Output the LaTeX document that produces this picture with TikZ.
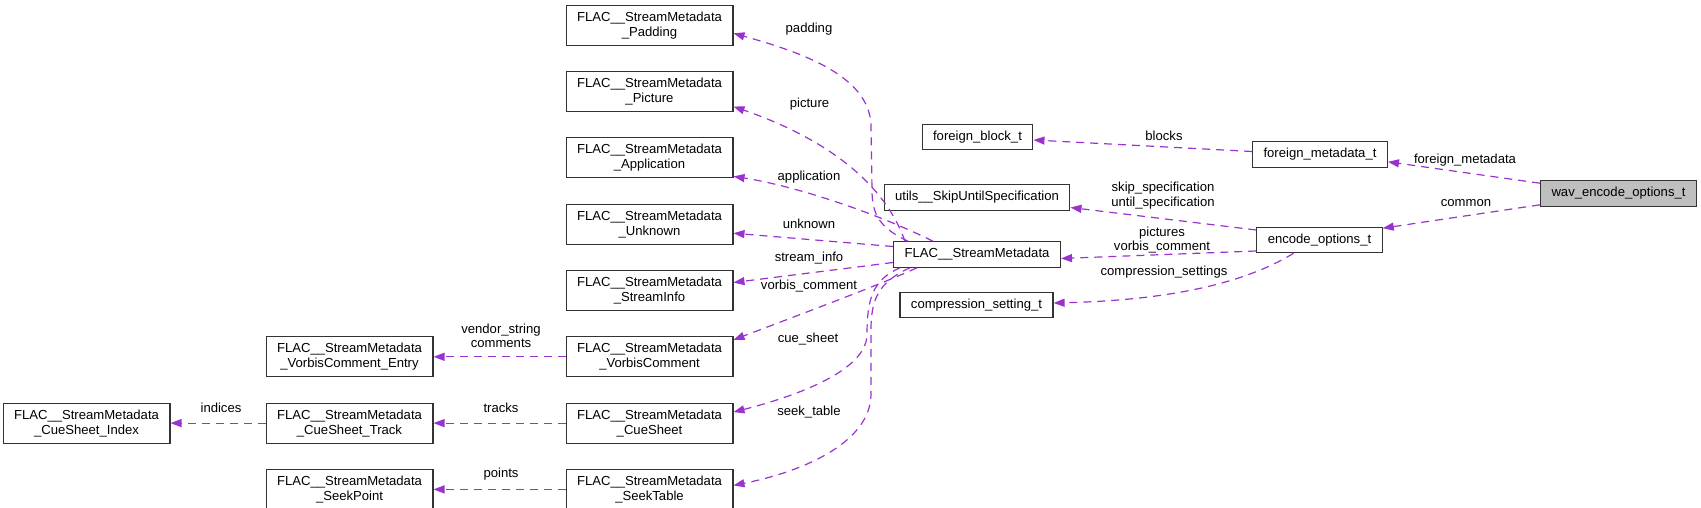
\documentclass[tikz,border=0pt]{standalone}
\usepackage{fontspec}
\setmainfont{Liberation Sans}
\usepackage{xcolor}
\usepackage{tikz}
\usetikzlibrary{arrows.meta,positioning,calc}
\definecolor{orchid}{HTML}{9A32CD}
\definecolor{focusgray}{HTML}{BFBFBF}
\tikzset{
    classbox/.style={rectangle, draw=black!80, line width=1.1pt, inner xsep=11pt, inner ysep=0pt, minimum height=25.5pt, align=center, font=\fontsize{13.1}{15}\selectfont, fill=white},
    twoline/.style={classbox, minimum height=40pt},
    focus/.style={classbox, fill=focusgray},
    member/.style={draw=orchid, line width=1.2pt, dash pattern=on 8pt off 6pt, -{Triangle[length=11pt, width=8pt]}},
    lbl/.style={font=\fontsize{13.1}{14.5}\selectfont, align=center, inner sep=0pt},
}

\begin{document}
\begin{tikzpicture}[x=1pt, y=-1pt, node distance=25.2pt and 132pt]
    \useasboundingbox (0,0) rectangle (1701,508);

    % metadata blocks
    \node[twoline] (pad) at (649.5,25.3) {FLAC\_\_StreamMetadata\\\_Padding};
    \node[twoline, below=of pad] (pic) {FLAC\_\_StreamMetadata\\\_Picture};
    \node[twoline, below=of pic] (app) {FLAC\_\_StreamMetadata\\\_Application};
    \node[twoline, below=of app] (unk) {FLAC\_\_StreamMetadata\\\_Unknown};
    \node[twoline, below=of unk] (sinf) {FLAC\_\_StreamMetadata\\\_StreamInfo};
    \node[twoline, below=of sinf] (vcmt) {FLAC\_\_StreamMetadata\\\_VorbisComment};
    \node[twoline, below=of vcmt] (cue) {FLAC\_\_StreamMetadata\\\_CueSheet};
    \node[twoline, below=of cue] (seek) {FLAC\_\_StreamMetadata\\\_SeekTable};

    \node[twoline, left=of vcmt] (entry) {FLAC\_\_StreamMetadata\\\_VorbisComment\_Entry};
    \node[twoline, left=of cue] (track) {FLAC\_\_StreamMetadata\\\_CueSheet\_Track};
    \node[twoline, left=of seek] (spt) {FLAC\_\_StreamMetadata\\\_SeekPoint};
    \node[twoline, left=95pt of track] (idx) {FLAC\_\_StreamMetadata\\\_CueSheet\_Index};

    % middle column
    \node[classbox] (fblock) at (977.5,137) {foreign\_block\_t};
    \node[classbox] (utils) at (977,197.5) {utils\_\_SkipUntilSpecification};
    \node[classbox] (meta) at (977,254.5) {FLAC\_\_StreamMetadata};
    \node[classbox] (comp) at (976.5,305) {compression\_setting\_t};

    % options
    \node[classbox] (fmeta) at (1320,154.5) {foreign\_metadata\_t};
    \node[classbox] (enc) at (1319.5,240) {encode\_options\_t};
    \node[focus] (wav) at (1618.5,193.5) {wav\_encode\_options\_t};

    \draw[member] ($(wav.north west)+(0,3)$) -- ($(fmeta.south east)+(0,-6)$)
        node[lbl] at (1465,160) {foreign\_metadata};
    \draw[member] ($(wav.south west)+(0,-2)$) -- ($(enc.north east)+(0,1.5)$)
        node[lbl] at (1466,203) {common};
    \draw[member] ($(fmeta.west)+(0,-3)$) -- ($(fblock.east)+(0,3)$)
        node[lbl] at (1164,136) {blocks};
    \draw[member] ($(enc.west)+(0,-10)$) -- ($(utils.east)+(0,10)$)
        node[lbl] at (1163,195.5) {skip\_specification\\until\_specification};
    \draw[member] ($(enc.west)+(0,11)$) -- ($(meta.east)+(0,4)$)
        node[lbl] at (1162,240) {pictures\\vorbis\_comment};
    \draw[member] ($(enc.south)+(-26,0)$) .. controls (1250,280) and (1180,300) .. ($(comp.east)+(0,-2)$)
        node[lbl] at (1164,272) {compression\_settings};

    \draw[member] ($(meta.north west)+(15,0)$) .. controls (880,228) and (872,215) .. (872,190)
        -- (871,125) .. controls (869,75) and (800,52) .. ($(pad.east)+(0,8)$)
        node[lbl] at (809,29) {padding};
    \draw[member] ($(meta.north west)+(12,0)$) .. controls (885,185) and (830,140) .. ($(pic.east)+(0,15)$)
        node[lbl] at (809.5,104) {picture};
    \draw[member] ($(meta.north west)+(40,0)$) .. controls (870,210) and (790,185) .. ($(app.east)+(0,18.5)$)
        node[lbl] at (809,177) {application};
    \draw[member] ($(meta.west)+(0,-8)$) -- ($(unk.east)+(0,9)$)
        node[lbl] at (809,224) {unknown};
    \draw[member] ($(meta.west)+(0,8)$) -- ($(sinf.east)+(0,-8)$)
        node[lbl] at (809,258) {stream\_info};
    \draw[member] ($(meta.south west)+(24,0)$) .. controls (890,280) and (860,292) .. ($(vcmt.east)+(0,-17)$)
        node[lbl] at (809,286) {vorbis\_comment};
    \draw[member] ($(meta.south west)+(7,0)$) .. controls (872,280) and (867,300) .. (867,335)
        .. controls (866,370) and (800,395) .. ($(cue.east)+(0,-11)$)
        node[lbl] at (808,339) {cue\_sheet};
    \draw[member] ($(meta.south west)+(17,0)$) .. controls (878,282) and (871,300) .. (871,330)
        -- (871,395) .. controls (870,440) and (810,470) .. ($(seek.east)+(0,-4)$)
        node[lbl] at (809,412) {seek\_table};

    \draw[member] (vcmt) -- (entry) node[lbl] at (501,336) {vendor\_string\\comments};
    \draw[member] (cue) -- (track) node[lbl] at (501,408) {tracks};
    \draw[member] (seek) -- (spt) node[lbl] at (501,474) {points};
    \draw[member] (track) -- (idx) node[lbl] at (221,408) {indices};
\end{tikzpicture}
\end{document}
